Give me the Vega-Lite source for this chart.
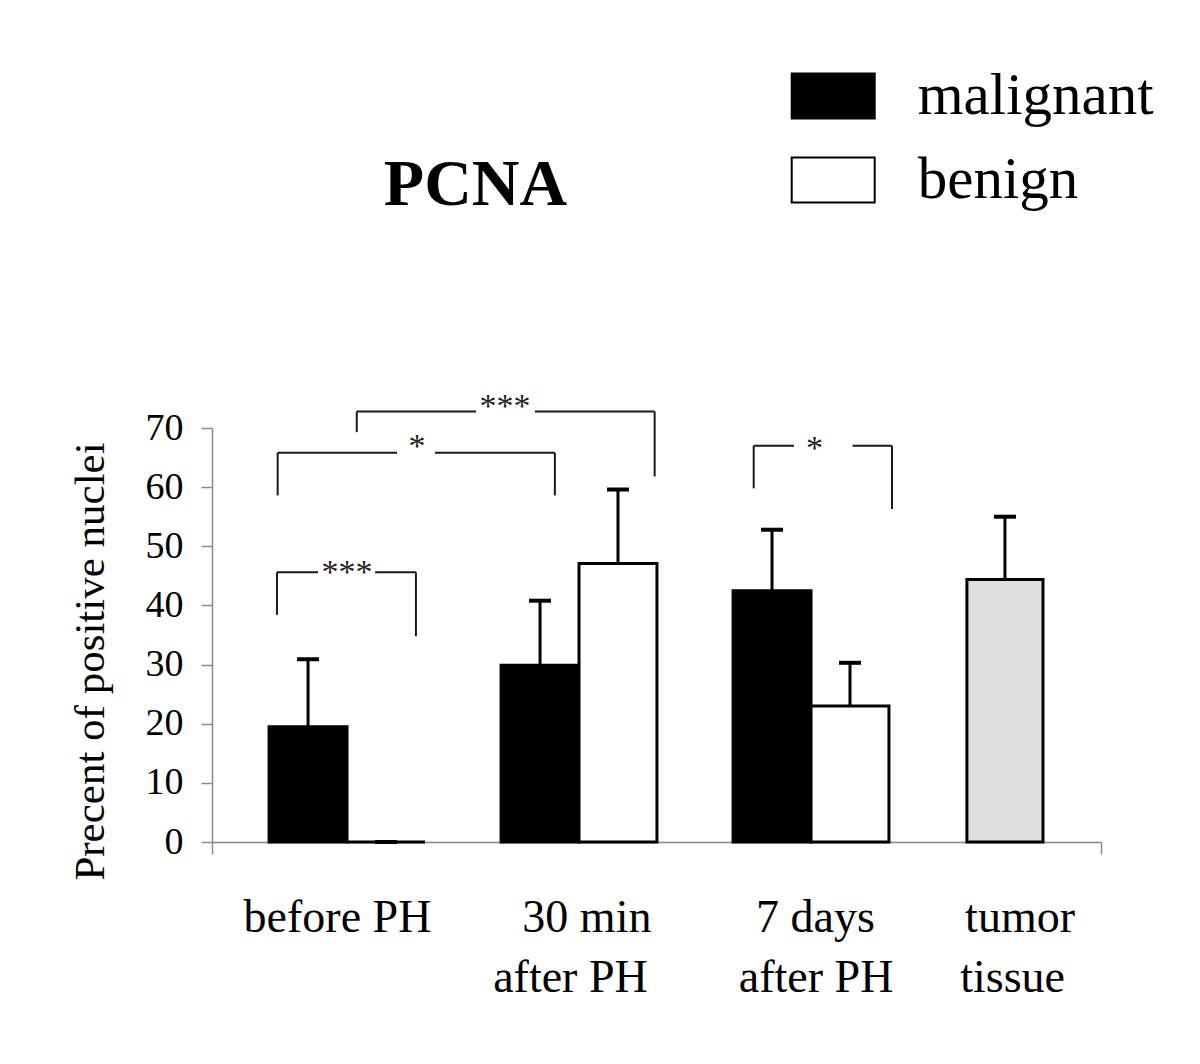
{
  "$schema": "https://vega.github.io/schema/vega-lite/v6.json",
  "autosize": "none",
  "width": 889,
  "height": 414,
  "padding": {"left": 212, "top": 428, "right": 99, "bottom": 222},
  "background": "white",
  "title": {
    "text": "PCNA",
    "font": "Liberation Serif",
    "fontSize": 66,
    "fontWeight": "bold",
    "color": "black",
    "anchor": "middle",
    "dx": -181,
    "dy": 217,
    "baseline": "alphabetic",
    "offset": 0
  },
  "datasets": {
    "bars": [
      {"group": "before PH", "type": "malignant", "x0": 0.664, "x1": 1.0, "xc": 0.832, "mean": 19.5, "upper": 30.9},
      {"group": "before PH", "type": "benign", "x0": 1.0, "x1": 1.336, "xc": 1.168, "mean": 0, "upper": 0},
      {"group": "30 min after PH", "type": "malignant", "x0": 1.664, "x1": 2.0, "xc": 1.832, "mean": 29.9, "upper": 40.8},
      {"group": "30 min after PH", "type": "benign", "x0": 2.0, "x1": 2.336, "xc": 2.168, "mean": 47.1, "upper": 59.6},
      {"group": "7 days after PH", "type": "malignant", "x0": 2.664, "x1": 3.0, "xc": 2.832, "mean": 42.5, "upper": 52.8},
      {"group": "7 days after PH", "type": "benign", "x0": 3.0, "x1": 3.336, "xc": 3.168, "mean": 23.0, "upper": 30.3},
      {"group": "tumor tissue", "type": "tumor", "x0": 3.672, "x1": 4.0, "xc": 3.836, "mean": 44.4, "upper": 55.0}
    ],
    "brackets": [
      {"x": 0.698, "x2": 0.698, "y": 38.4, "y2": 45.6},
      {"x": 0.698, "x2": 0.875, "y": 45.6, "y2": 45.6},
      {"x": 1.121, "x2": 1.297, "y": 45.6, "y2": 45.6},
      {"x": 1.297, "x2": 1.297, "y": 45.6, "y2": 34.8},
      {"x": 0.701, "x2": 0.701, "y": 58.6, "y2": 65.8},
      {"x": 0.701, "x2": 1.216, "y": 65.8, "y2": 65.8},
      {"x": 1.379, "x2": 1.896, "y": 65.8, "y2": 65.8},
      {"x": 1.896, "x2": 1.896, "y": 65.8, "y2": 58.6},
      {"x": 1.042, "x2": 1.042, "y": 69.3, "y2": 72.8},
      {"x": 1.042, "x2": 1.556, "y": 72.8, "y2": 72.8},
      {"x": 1.81, "x2": 2.326, "y": 72.8, "y2": 72.8},
      {"x": 2.326, "x2": 2.326, "y": 72.8, "y2": 61.8},
      {"x": 2.753, "x2": 2.753, "y": 59.8, "y2": 67.0},
      {"x": 2.753, "x2": 2.927, "y": 67.0, "y2": 67.0},
      {"x": 3.179, "x2": 3.349, "y": 67.0, "y2": 67.0},
      {"x": 3.349, "x2": 3.349, "y": 67.0, "y2": 56.3}
    ],
    "stars": [
      {"label": "***", "x": 1.0, "y": 46.6},
      {"label": "*", "x": 1.302, "y": 67.9},
      {"label": "***", "x": 1.681, "y": 74.8},
      {"label": "*", "x": 3.015, "y": 67.7}
    ],
    "cats": [
      {"label": "before PH", "x": 0.959, "y": -15.3},
      {"label": "30 min", "x": 2.034, "y": -15.3},
      {"label": "after PH", "x": 1.963, "y": -25.3},
      {"label": "7 days", "x": 3.019, "y": -15.3},
      {"label": "after PH", "x": 3.022, "y": -25.3},
      {"label": "tumor", "x": 3.901, "y": -15.3},
      {"label": "tissue", "x": 3.869, "y": -25.3}
    ]
  },
  "layer": [
    {
      "data": {"name": "bars"},
      "mark": {"type": "rect", "stroke": "black", "strokeWidth": 3},
      "encoding": {
        "x": {
          "field": "x0", "type": "quantitative", "title": null,
          "scale": {"domain": [0.418, 4.25], "nice": false, "zero": false},
          "axis": {"labels": false, "values": [0.418, 4.25], "tickSize": 12, "grid": false, "domainColor": "#888", "tickColor": "#888", "domainWidth": 1.5, "tickWidth": 1.5}
        },
        "x2": {"field": "x1"},
        "y": {
          "field": "mean", "type": "quantitative", "title": "Precent of positive nuclei",
          "scale": {"domain": [0, 70], "nice": false},
          "axis": {
            "values": [0, 10, 20, 30, 40, 50, 60, 70],
            "grid": false, "tickSize": 11, "labelPadding": 18,
            "labelFont": "Liberation Serif", "labelFontSize": 38, "labelColor": "black",
            "domainColor": "#888", "tickColor": "#888", "domainWidth": 1.5, "tickWidth": 1.5,
            "titleFont": "Liberation Serif", "titleFontSize": 43, "titleFontWeight": "normal", "titleColor": "black",
            "titleAngle": -90, "titleX": -109, "titleY": 233, "titleAlign": "center", "titleBaseline": "alphabetic"
          }
        },
        "y2": {"datum": 0},
        "fill": {
          "field": "type", "type": "nominal",
          "scale": {"domain": ["malignant", "benign", "tumor"], "range": ["black", "white", "#dedede"]},
          "legend": {
            "values": ["malignant", "benign"],
            "title": null,
            "orient": "none",
            "legendX": 578.7,
            "legendY": -374.5,
            "padding": 0,
            "symbolType": "M-1,-0.544H1V0.544H-1Z",
            "symbolSize": 6889,
            "symbolStrokeColor": "black",
            "symbolStrokeWidth": 2,
            "labelFont": "Liberation Serif",
            "labelFontSize": 59,
            "labelColor": "black",
            "labelOffset": 42,
            "labelLimit": 400,
            "rowPadding": 11
          }
        }
      }
    },
    {
      "data": {"name": "bars"},
      "mark": {"type": "rule", "color": "black", "strokeWidth": 3},
      "encoding": {
        "x": {"field": "xc", "type": "quantitative", "title": null},
        "y": {"field": "mean", "type": "quantitative", "title": "Precent of positive nuclei"},
        "y2": {"field": "upper"}
      }
    },
    {
      "data": {"name": "bars"},
      "mark": {"type": "tick", "color": "black", "orient": "horizontal", "size": 22, "thickness": 4, "opacity": 1},
      "encoding": {
        "x": {"field": "xc", "type": "quantitative", "title": null},
        "y": {"field": "upper", "type": "quantitative", "title": "Precent of positive nuclei"}
      }
    },
    {
      "data": {"name": "brackets"},
      "mark": {"type": "rule", "color": "#1a1a1a", "strokeWidth": 2},
      "encoding": {
        "x": {"field": "x", "type": "quantitative", "title": null},
        "x2": {"field": "x2"},
        "y": {"field": "y", "type": "quantitative", "title": "Precent of positive nuclei"},
        "y2": {"field": "y2"}
      }
    },
    {
      "data": {"name": "stars"},
      "mark": {"type": "text", "font": "Liberation Serif", "fontSize": 34, "color": "#222", "align": "center", "baseline": "alphabetic", "dy": 17},
      "encoding": {
        "x": {"field": "x", "type": "quantitative", "title": null},
        "y": {"field": "y", "type": "quantitative", "title": "Precent of positive nuclei"},
        "text": {"field": "label"}
      }
    },
    {
      "data": {"name": "cats"},
      "mark": {"type": "text", "font": "Liberation Serif", "fontSize": 46, "color": "black", "align": "center", "baseline": "alphabetic"},
      "encoding": {
        "x": {"field": "x", "type": "quantitative", "title": null},
        "y": {"field": "y", "type": "quantitative", "title": "Precent of positive nuclei"},
        "text": {"field": "label"}
      }
    }
  ],
  "config": {"view": {"stroke": null}}
}
